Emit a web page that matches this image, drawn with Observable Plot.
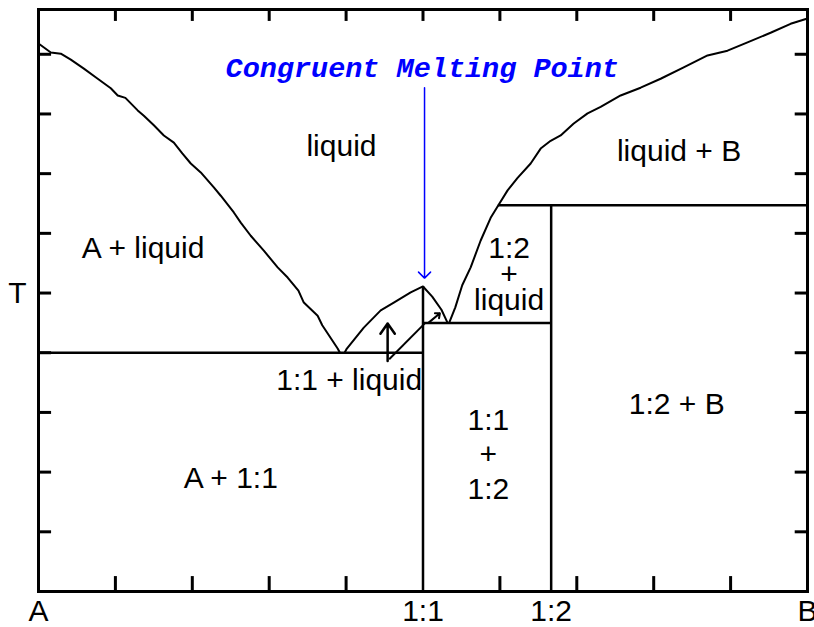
<!DOCTYPE html>
<html>
<head>
<meta charset="utf-8">
<script src="https://cdn.jsdelivr.net/npm/d3@7"></script>
<script src="https://cdn.jsdelivr.net/npm/@observablehq/plot@0.6"></script>
<style>
  html, body { margin: 0; padding: 0; overflow: hidden; background: #fff; }
</style>
</head>
<body>
<div id="chart"></div>
<script>
// ---- axis ticks & labels ----
const compositionTicks = [0, 0.5, 2 / 3, 1];
const compositionLabels = ["A", "1:1", "1:2", "B"];
const bottomMinorTicks = [0.1, 0.2, 0.3, 0.4, 0.6, 0.7, 0.8, 0.9];
const topMinorTicks = [0.1, 0.2, 0.3, 0.4, 0.5, 0.6, 0.7, 0.8, 0.9];
const temperatureTicks = [1, 2, 3, 4, 5, 6, 7, 8, 9];
const temperatureLabelTick = [5];
const temperatureLabel = "T";

// ---- liquidus curves [composition, temperature] ----
const liquidusA = [
  [0, 9.18], [0.016, 9.03], [0.029, 9.01], [0.042, 8.91], [0.059, 8.76],
  [0.077, 8.59], [0.094, 8.43], [0.103, 8.31], [0.113, 8.27], [0.129, 8.06],
  [0.137, 7.97], [0.150, 7.81], [0.163, 7.64], [0.176, 7.52], [0.187, 7.34],
  [0.198, 7.17], [0.211, 7.02], [0.228, 6.77], [0.237, 6.63], [0.254, 6.35],
  [0.263, 6.18], [0.276, 5.96], [0.293, 5.71], [0.311, 5.43], [0.324, 5.26],
  [0.338, 5.04], [0.345, 4.84], [0.363, 4.62], [0.369, 4.46], [0.389, 4.07],
  [0.392, 4.0]
];
const liquidusCompound11 = [
  [0.398, 4.0], [0.401, 4.07], [0.423, 4.42], [0.445, 4.71], [0.462, 4.84],
  [0.484, 5.01], [0.5, 5.11], [0.512, 4.94], [0.524, 4.72], [0.532, 4.5]
];
const liquidusB = [
  [0.534, 4.5], [0.542, 4.76], [0.551, 5.13], [0.562, 5.43], [0.575, 5.88],
  [0.588, 6.26], [0.598, 6.47], [0.610, 6.72], [0.623, 6.93], [0.640, 7.17],
  [0.653, 7.42], [0.666, 7.55], [0.679, 7.64], [0.696, 7.84], [0.714, 8.01],
  [0.731, 8.12], [0.757, 8.31], [0.783, 8.44], [0.809, 8.59], [0.839, 8.78],
  [0.870, 8.98], [0.896, 9.06], [0.922, 9.20], [0.952, 9.36], [0.978, 9.51],
  [1, 9.60]
];

// ---- invariant lines ----
const eutecticLines = [
  { x1: 0, x2: 0.5, y: 4.0 },
  { x1: 0.5, x2: 2 / 3, y: 4.5 },
  { x1: 0.598, x2: 1, y: 6.47 }
];
const compoundLines = [
  { x: 0.5, y1: 0, y2: 5.11 },
  { x: 2 / 3, y1: 0, y2: 6.47 }
];

// ---- cooling-path annotation ----
const coolingArrowUp = [{ x1: 0.454, y1: 3.86, x2: 0.454, y2: 4.49 }];
const coolingPath = [{ x1: 0.456, y1: 3.89, x2: 0.503, y2: 4.5 }];
const coolingArrowSmall = [{ x1: 0.507, y1: 4.5, x2: 0.522, y2: 4.66 }];

// ---- congruent melting point callout ----
const callout = [{ text: "Congruent Melting Point", x: 0.499, y: 8.78 }];
const calloutArrow = [{ x1: 0.502, y1: 8.44, x2: 0.502, y2: 5.25 }];

// ---- region labels ----
const regionLabels = [
  { text: "liquid", x: 0.394, y: 7.46 },
  { text: "A + liquid", x: 0.136, y: 5.74 },
  { text: "liquid + B", x: 0.833, y: 7.38 },
  { text: "1:1 + liquid", x: 0.404, y: 3.53 },
  { text: "A + 1:1", x: 0.250, y: 1.90 },
  { text: "1:2 + B", x: 0.830, y: 3.14 }
];
const stackedLabelsTight = [
  { text: "1:2\n+\nliquid", x: 0.612, y: 5.285 }
];
const stackedLabelsLoose = [
  { text: "1:1\n+\n1:2", x: 0.585, y: 2.313 }
];

const yTop = 9.75;
const sans = "Liberation Sans, Arial, Helvetica, sans-serif";

const chart = Plot.plot({
  width: 814,
  height: 627,
  marginLeft: 38,
  marginRight: 7,
  marginTop: 9,
  marginBottom: 36,
  x: { domain: [0, 1] },
  y: { domain: [0, yTop] },
  style: { fontFamily: sans, fontSize: "30px", color: "black", background: "white" },
  marks: [
    Plot.axisX({
      ticks: compositionTicks,
      tickFormat: d => compositionLabels[compositionTicks.indexOf(d)],
      tickSize: 0, tickPadding: 8, fontSize: 30, label: null
    }),
    Plot.axisY({
      ticks: temperatureLabelTick,
      tickFormat: () => temperatureLabel,
      tickSize: 0, tickPadding: 12, fontSize: 30, label: null
    }),
    // inward ticks
    Plot.ruleX(bottomMinorTicks, { x: d => d, y1: 0, y2: 0.25, strokeWidth: 3 }),
    Plot.ruleX(topMinorTicks, { x: d => d, y1: yTop, y2: yTop - 0.2, strokeWidth: 3 }),
    Plot.ruleY(temperatureTicks, { y: d => d, x1: 0, x2: 0.017, strokeWidth: 3 }),
    Plot.ruleY(temperatureTicks, { y: d => d, x1: 1, x2: 1 - 0.016, strokeWidth: 3 }),
    // phase boundaries
    Plot.ruleY(eutecticLines, { y: "y", x1: "x1", x2: "x2", strokeWidth: 2.5 }),
    Plot.ruleX(compoundLines, { x: "x", y1: "y1", y2: "y2", strokeWidth: 2.5 }),
    Plot.line(liquidusA, { x: d => d[0], y: d => d[1], strokeWidth: 2 }),
    Plot.line(liquidusCompound11, { x: d => d[0], y: d => d[1], strokeWidth: 2 }),
    Plot.line(liquidusB, { x: d => d[0], y: d => d[1], strokeWidth: 2 }),
    // cooling path annotation
    Plot.link(coolingPath, { x1: "x1", y1: "y1", x2: "x2", y2: "y2", strokeWidth: 2 }),
    Plot.arrow(coolingArrowUp, { x1: "x1", y1: "y1", x2: "x2", y2: "y2", strokeWidth: 2.5, headLength: 9, headAngle: 70 }),
    Plot.arrow(coolingArrowSmall, { x1: "x1", y1: "y1", x2: "x2", y2: "y2", strokeWidth: 2, headLength: 6, headAngle: 80 }),
    // callout
    Plot.arrow(calloutArrow, { x1: "x1", y1: "y1", x2: "x2", y2: "y2", stroke: "#0000ff", strokeWidth: 1.5, headLength: 8.5, headAngle: 90 }),
    Plot.text(callout, {
      x: "x", y: "y", text: "text", fill: "#0000ff",
      fontFamily: "Liberation Mono, Courier New, monospace", fontStyle: "italic",
      fontWeight: "bold", fontSize: 28.5
    }),
    // region labels
    Plot.text(regionLabels, { x: "x", y: "y", text: "text", fontSize: 30, fill: "black" }),
    Plot.text(stackedLabelsTight, { x: "x", y: "y", text: "text", fontSize: 30, lineHeight: 0.87, fill: "black" }),
    Plot.text(stackedLabelsLoose, { x: "x", y: "y", text: "text", fontSize: 30, lineHeight: 1.15, fill: "black" }),
    Plot.frame({ strokeWidth: 3 })
  ]
});

document.getElementById("chart").appendChild(chart);
</script>
</body>
</html>
